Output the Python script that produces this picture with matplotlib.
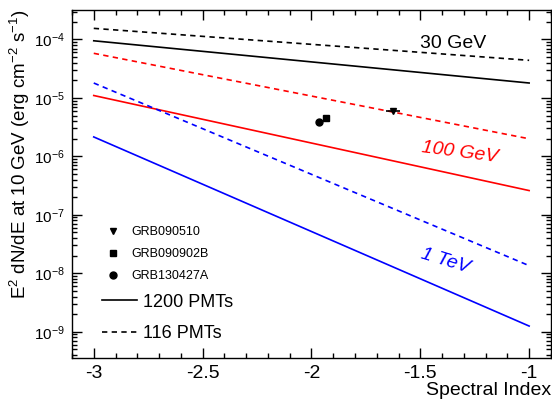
import numpy as np
import matplotlib.pyplot as plt
from matplotlib.lines import Line2D
from matplotlib.ticker import LogLocator, MultipleLocator, LogFormatterMathtext

plt.rcParams['font.family'] = ['Liberation Sans', 'DejaVu Sans']
plt.rcParams['mathtext.default'] = 'regular'
plt.rcParams['axes.unicode_minus'] = False

# sensitivity lines: value at index -3 and at index -1 (straight in log space)
index_ends = [-3.0, -1.0]
gev30_1200 = [9.5e-5, 1.8e-5]
gev30_116 = [1.55e-4, 4.4e-5]
gev100_1200 = [1.1e-5, 2.6e-7]
gev100_116 = [5.8e-5, 2.0e-6]
tev1_1200 = [2.15e-6, 1.25e-9]
tev1_116 = [1.8e-5, 1.35e-8]

# GRBs
grb_names = ['GRB090510', 'GRB090902B', 'GRB130427A']
grb_index = [-1.627, -1.935, -1.967]
grb_index_err = [0.032, 0.0, 0.0]
grb_flux = [6.0e-6, 4.6e-6, 3.9e-6]
grb_markers = ['v', 's', 'o']

y_major = [1e-9, 1e-8, 1e-7, 1e-6, 1e-5, 1e-4]

fig, ax = plt.subplots(figsize=(5.52, 4.01), dpi=100)
fig.subplots_adjust(left=0.1304, right=0.998, top=0.975, bottom=0.1072)

lw = 1.2
dash = (0, (3.2, 2.6))
ax.plot(index_ends, gev30_1200, color='black', lw=lw)
ax.plot(index_ends, gev30_116, color='black', lw=lw, ls=dash)
ax.plot(index_ends, gev100_1200, color='red', lw=lw)
ax.plot(index_ends, gev100_116, color='red', lw=lw, ls=dash)
ax.plot(index_ends, tev1_1200, color='blue', lw=lw)
ax.plot(index_ends, tev1_116, color='blue', lw=lw, ls=dash)

for i in range(len(grb_names)):
    ax.errorbar(grb_index[i], grb_flux[i], xerr=grb_index_err[i] if grb_index_err[i] > 0 else None,
                fmt=grb_markers[i], color='black', ms=5, elinewidth=1.2, capsize=0)

ax.text(-1.35, 8.7e-5, '30 GeV', fontsize=14, color='black', ha='center', va='center')
ax.text(-1.318, 1.15e-6, '100 GeV', fontsize=14, color='red', ha='center', va='center',
        style='italic', rotation=-7.5)
ax.text(-1.387, 1.6e-8, '1 TeV', fontsize=14, color='blue', ha='center', va='center',
        style='italic', rotation=-17)

ax.set_yscale('log')
ax.set_xlim(-3.1, -0.9)
ax.set_ylim(10**-9.45, 10**-3.496)

ax.xaxis.set_major_locator(MultipleLocator(0.5))
ax.xaxis.set_minor_locator(MultipleLocator(0.1))
ax.xaxis.set_major_formatter(plt.FuncFormatter(lambda v, p: f'{v:g}'))
ax.set_yticks(y_major)
ax.yaxis.set_minor_locator(LogLocator(base=10, subs=np.arange(2, 10), numticks=20))
ax.yaxis.set_major_formatter(LogFormatterMathtext())

ax.tick_params(which='both', direction='in', top=True, right=True, width=1)
ax.tick_params(axis='x', labelsize=14)
ax.tick_params(axis='y', labelsize=11)
ax.tick_params(which='major', length=7, pad=5)
ax.tick_params(which='minor', length=3.5)
for s in ax.spines.values():
    s.set_linewidth(1.0)

ax.set_xlabel('Spectral Index', fontsize=14, loc='right', labelpad=0)
ax.set_ylabel('E$^{2}$ dN/dE at 10 GeV (erg cm$^{-2}$ s$^{-1}$)', fontsize=13.5, loc='top')
ax.yaxis.set_label_coords(-0.083, 1.0)

# legends
grb_handles = [Line2D([], [], marker=m, ls='none', color='black', ms=5) for m in grb_markers]
leg1 = ax.legend(grb_handles, grb_names, loc='upper left', bbox_to_anchor=(0.072, 0.378),
                 frameon=False, fontsize=9, handlelength=1.0, handletextpad=1.0,
                 labelspacing=0.78, borderpad=0, borderaxespad=0)
ax.add_artist(leg1)
pmt_handles = [Line2D([], [], color='black', lw=lw),
               Line2D([], [], color='black', lw=lw, ls=dash)]
ax.legend(pmt_handles, ['1200 PMTs', '116 PMTs'], loc='upper left', bbox_to_anchor=(0.0626, 0.185),
          frameon=False, fontsize=13, handlelength=1.94, handletextpad=0.33,
          labelspacing=0.8, borderpad=0, borderaxespad=0)

plt.savefig('out.png', dpi=100)
